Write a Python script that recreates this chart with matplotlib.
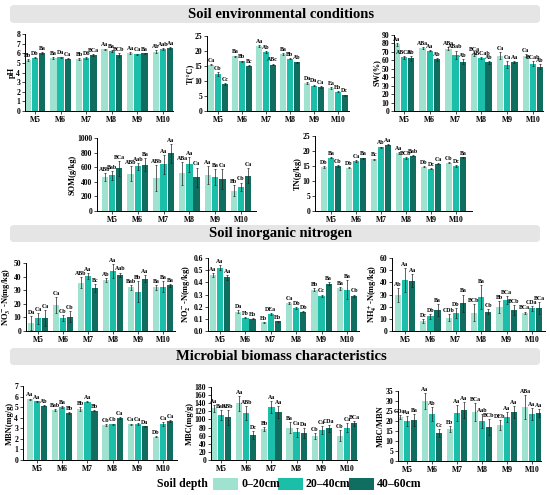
import matplotlib.pyplot as plt
import numpy as np
from matplotlib.patches import FancyBboxPatch, Rectangle

plt.rcParams['font.family'] = ['Liberation Serif', 'DejaVu Serif']
plt.rcParams['font.weight'] = 'bold'
plt.rcParams['mathtext.fontset'] = 'stix'
plt.rcParams['axes.linewidth'] = 0.7

sites = ['M5', 'M6', 'M7', 'M8', 'M9', 'M10']
depths = ['0–20cm', '20–40cm', '40–60cm']
colors = ['#9fe2cf', '#1bbfa9', '#0f6e5f']

# rows = sites M5..M10, columns = depth 0-20, 20-40, 40-60
ph = [[5.3, 5.55, 6.0], [5.5, 5.6, 5.45], [5.4, 5.5, 5.8],
      [6.4, 6.2, 5.8], [6.05, 5.9, 6.0], [6.15, 6.45, 6.55]]
ph_err = [[0.12, 0.08, 0.1], [0.1, 0.06, 0.06], [0.06, 0.08, 0.08],
          [0.08, 0.1, 0.2], [0.1, 0.06, 0.06], [0.15, 0.12, 0.1]]
ph_lab = [['Bb', 'Db', 'Ba'], ['Ba', 'Da', 'Ca'], ['Bb', 'Db', 'BCa'],
          ['Aa', 'Ba', 'BCb'], ['Aa', 'Ca', 'Ba'], ['Ab', 'Aab', 'Aa']]

temp = [[15.5, 12.3, 9.0], [18.3, 16.6, 15.1], [21.8, 19.7, 15.5],
        [18.9, 17.5, 16.3], [9.3, 8.5, 8.0], [7.6, 6.5, 5.3]]
temp_err = [[0.2, 0.6, 0.4], [0.2, 0.2, 0.2], [0.3, 0.3, 0.3],
            [0.3, 0.2, 0.2], [0.3, 0.3, 0.2], [0.3, 0.2, 0.2]]
temp_lab = [['Ca', 'Cb', 'Cc'], ['Ba', 'Bb', 'Bc'], ['Aa', 'Ab', 'ABc'],
            ['Ba', 'Bb', 'Ab'], ['Da', 'Da', 'Ca'], ['Ea', 'Eb', 'Dc']]

sw = [[79, 63.5, 62.5], [74.5, 71.5, 61], [74, 66.5, 58.5],
      [67, 63, 57.5], [65.5, 55, 58], [65.5, 56, 52.5]]
sw_err = [[1.5, 2, 3], [1, 1, 1.5], [1.5, 5, 3],
          [2, 1, 2], [4, 4, 1.5], [2, 3, 3]]
sw_lab = [['Aa', 'ABCb', 'Ab'], ['ABa', 'Aa', 'Ab'], ['ABa', 'ABab', 'Ab'],
          ['BCa', 'ABCab', 'Ab'], ['Ca', 'Ca', 'Aa'], ['Ca', 'BCab', 'Ab']]

som = [[465, 490, 585], [510, 610, 635], [455, 640, 790],
       [515, 640, 465], [495, 460, 440], [280, 330, 485]]
som_err = [[60, 60, 100], [100, 50, 90], [180, 130, 130],
           [160, 100, 130], [120, 110, 140], [70, 60, 100]]
som_lab = [['ABb', 'Bab', 'BCa'], ['ABb', 'Aab', 'Ba'], ['ABb', 'Aa', 'Aa'],
           ['ABa', 'Aa', 'Ca'], ['Aa', 'Ba', 'Ca'], ['Bb', 'Cb', 'Ca']]

tn = [[14.7, 17.8, 15.0], [14.4, 16.6, 17.6], [17.3, 21.3, 22.1],
      [19.4, 17.7, 18.5], [14.8, 14.1, 15.8], [16.1, 15.0, 17.9]]
tn_err = [[0.2, 0.2, 0.3], [0.2, 0.4, 0.2], [0.2, 0.2, 0.2],
          [0.3, 0.2, 0.2], [0.2, 0.2, 0.2], [0.2, 0.2, 0.2]]
tn_lab = [['Db', 'Ba', 'Cb'], ['Db', 'Ca', 'Ba'], ['Bc', 'Ab', 'Aa'],
          ['Aa', 'BCb', 'Bab'], ['Db', 'Dc', 'Ca'], ['Cb', 'Dc', 'Ba']]

no3 = [[6, 9.5, 9.5], [19, 9.5, 10.5], [35.5, 40.5, 31.5],
       [37.5, 44, 41.5], [32, 29, 38.5], [32, 32.5, 33.5]]
no3_err = [[5, 4, 6], [6, 2, 4], [4, 2, 3],
           [1.5, 5, 1.5], [2, 8, 2.5], [1.5, 4, 1]]
no3_lab = [['Da', 'Ca', 'Ca'], ['Ca', 'Cb', 'Cb'], ['ABb', 'Aa', 'Bc'],
           ['Ab', 'Aa', 'Aab'], ['Bab', 'Bb', 'Aa'], ['Ba', 'Ba', 'Ba']]

no2 = [[0.46, 0.52, 0.44], [0.16, 0.11, 0.10], [0.07, 0.14, 0.08],
       [0.23, 0.19, 0.16], [0.34, 0.29, 0.39], [0.35, 0.34, 0.29]]
no2_err = [[0.015, 0.02, 0.02], [0.01, 0.005, 0.005], [0.005, 0.005, 0.005],
           [0.01, 0.01, 0.005], [0.01, 0.01, 0.01], [0.01, 0.08, 0.01]]
no2_lab = [['Aa', 'Aa', 'Aa'], ['Da', 'Fb', 'Eb'], ['Eb', 'DEa', 'Eb'],
           ['Ca', 'Db', 'Db'], ['Bb', 'Cc', 'Ba'], ['Ba', 'Ba', 'Cb']]

nh4 = [[29.5, 42, 41.5], [8, 12, 17.5], [11, 15, 23],
       [15, 28, 16], [19.5, 25.5, 17], [15, 18.5, 19]]
nh4_err = [[6, 10, 5], [1.5, 2, 5], [3, 4, 7],
           [7, 10, 2], [5, 3, 4], [1, 2, 5]]
nh4_lab = [['Ab', 'Aa', 'Aa'], ['Dc', 'Db', 'Ba'], ['CDb', 'Db', 'Ba'],
           ['BCb', 'Ba', 'Cb'], ['Bb', 'BCa', 'BCb'], ['BCa', 'CDa', 'BCa']]

mbn = [[5.75, 5.55, 5.15], [4.7, 5.0, 4.45], [4.8, 5.5, 4.65],
       [3.3, 3.4, 3.95], [3.4, 3.4, 3.2], [2.2, 3.4, 3.7]]
mbn_err = [[0.06, 0.06, 0.05], [0.1, 0.08, 0.1], [0.2, 0.06, 0.06],
           [0.06, 0.05, 0.08], [0.05, 0.12, 0.05], [0.05, 0.15, 0.06]]
mbn_lab = [['Aa', 'Aa', 'Ab'], ['Bab', 'Ba', 'Bb'], ['Bb', 'Aa', 'Bb'],
           ['Cb', 'Cb', 'Ca'], ['Ca', 'Ca', 'Da'], ['Db', 'Ca', 'Ca']]

mbc = [[127, 111, 105], [140, 116, 62], [76, 131, 118],
       [80, 68, 66], [59, 74, 78], [60, 80, 91]]
mbc_err = [[8, 13, 18], [18, 17, 10], [5, 15, 15],
           [13, 12, 12], [8, 10, 8], [13, 12, 6]]
mbc_lab = [['Aa', 'Bab', 'ABb'], ['Aa', 'ABb', 'Dc'], ['Bb', 'Aa', 'Aa'],
           ['Ba', 'Ca', 'Da'], ['Cb', 'Ca', 'CDa'], ['Cb', 'Ca', 'BCa']]

ratio = [[22, 20, 20.3], [29.8, 23.3, 14.1], [16, 24, 25.5],
         [24.5, 20.2, 17], [17.8, 22.2, 24.5], [27, 23.6, 24.2]]
ratio_err = [[1.2, 2.5, 3], [4, 3.5, 2], [1.5, 4, 4],
             [4.5, 3.5, 4], [2.5, 2.5, 3], [6, 3, 2]]
ratio_lab = [['CDa', 'Aa', 'Ba'], ['Aa', 'Ab', 'Cc'], ['Eb', 'Aa', 'Aa'],
             ['BCa', 'Aab', 'BCb'], ['DEb', 'Aa', 'Aa'], ['ABa', 'Aa', 'Aa']]

W, H = 550, 495
fig = plt.figure(figsize=(5.5, 4.95), dpi=100)


def panel(box, vals, errs, labs, ytop, ystep, ylabel, fmt='{:g}'):
    # box: y-axis px, M5 centre px, M10 centre px, px of ytop, px of 0
    axis_x, c0, c5, ytop_px, y0_px = box
    unit = (c5 - c0) / 5
    lo = -(c0 - axis_x) / unit
    hi = 5 - lo
    width = (hi - lo) * unit
    ax = fig.add_axes([axis_x / W, 1 - y0_px / H, width / W, (y0_px - ytop_px) / H])
    vals = np.array(vals)
    errs = np.array(errs)
    x = np.arange(len(sites))
    bw = 0.25
    for j in range(3):
        xs = x + (j - 1) * 0.28
        ax.bar(xs, vals[:, j], bw, color=colors[j], yerr=errs[:, j],
               error_kw=dict(lw=0.5, capsize=1.0, capthick=0.5, ecolor='#222222'))
        for i in range(len(sites)):
            ax.text(xs[i], vals[i, j] + errs[i, j] + ytop * 0.015, labs[i][j],
                    ha='center', va='bottom', fontsize=4.2, fontweight='bold',
                    clip_on=False)
    ax.set_xlim(lo, hi)
    ax.set_ylim(0, ytop)
    ticks = np.arange(0, ytop + ystep / 2, ystep)
    ax.set_yticks(ticks)
    ax.set_yticklabels([fmt.format(t) for t in ticks])
    ax.set_xticks(x)
    ax.set_xticklabels(sites)
    ax.tick_params(labelsize=5.5, length=2, width=0.5, pad=1.5)
    for s in ['top', 'right']:
        ax.spines[s].set_visible(False)
    ax.set_ylabel(ylabel, fontsize=6, fontweight='bold', labelpad=0.5)
    return ax


def header(y_top, y_bot, text):
    hx = fig.add_axes([10 / W, 1 - y_bot / H, 530 / W, (y_bot - y_top) / H])
    hx.set_xlim(0, 530)
    hx.set_ylim(0, y_bot - y_top)
    hx.axis('off')
    hx.add_patch(FancyBboxPatch((0, 0), 530, y_bot - y_top,
                                boxstyle='round,pad=0,rounding_size=4',
                                fc='#e5e5e5', ec='none'))
    hx.text(271, (y_bot - y_top) / 2, text, ha='center', va='center',
            fontsize=10.5, fontweight='bold')


header(5, 23, 'Soil environmental conditions')
header(225, 242, 'Soil inorganic nitrogen')
header(348, 365, 'Microbial biomass characteristics')

panel((25, 35, 163, 34, 111), ph, ph_err, ph_lab, 8, 1, 'pH')
panel((207, 218, 338, 36, 111), temp, temp_err, temp_lab, 25, 5, 'T(°C)')
panel((394, 404, 533, 35, 111), sw, sw_err, sw_lab, 90, 10, 'SW(%)')

panel((97, 112, 241, 138, 211), som, som_err, som_lab, 1000, 200, 'SOM(g/kg)')
panel((315, 331, 456, 136, 211), tn, tn_err, tn_lab, 25, 5, 'TN(g/kg)')

panel((26, 38, 163, 263, 331), no3, no3_err, no3_lab, 50, 10,
      r'NO$_3^-$-N(mg/kg)')
panel((208, 220, 347, 258, 331), no2, no2_err, no2_lab, 0.6, 0.1,
      r'NO$_2^-$-N(mg/kg)', fmt='{:.1f}')
panel((392, 405, 532, 258, 331), nh4, nh4_err, nh4_lab, 60, 10,
      r'NH$_4^+$-N(mg/kg)')

panel((23, 37, 163, 386, 460), mbn, mbn_err, mbn_lab, 7, 1, 'MBN(mg/g)')
panel((211, 221, 347, 387, 460), mbc, mbc_err, mbc_lab, 180, 20, 'MBC(mg/g)')
panel((398, 407, 532, 391, 461), ratio, ratio_err, ratio_lab, 35, 5, 'MBC/MBN')

# legend
fig.text(157 / W, 1 - 484 / H, 'Soil depth', ha='left', va='center',
         fontsize=8.5, fontweight='bold')
patch_x = [213, 278, 349]
for j in range(3):
    fig.add_artist(Rectangle((patch_x[j] / W, 1 - 490 / H), 25 / W, 12 / H,
                             transform=fig.transFigure, fc=colors[j], ec='none'))
    fig.text((patch_x[j] + 28) / W, 1 - 484 / H, depths[j], ha='left',
             va='center', fontsize=8.5, fontweight='bold')

fig.savefig('out.png', dpi=100)
